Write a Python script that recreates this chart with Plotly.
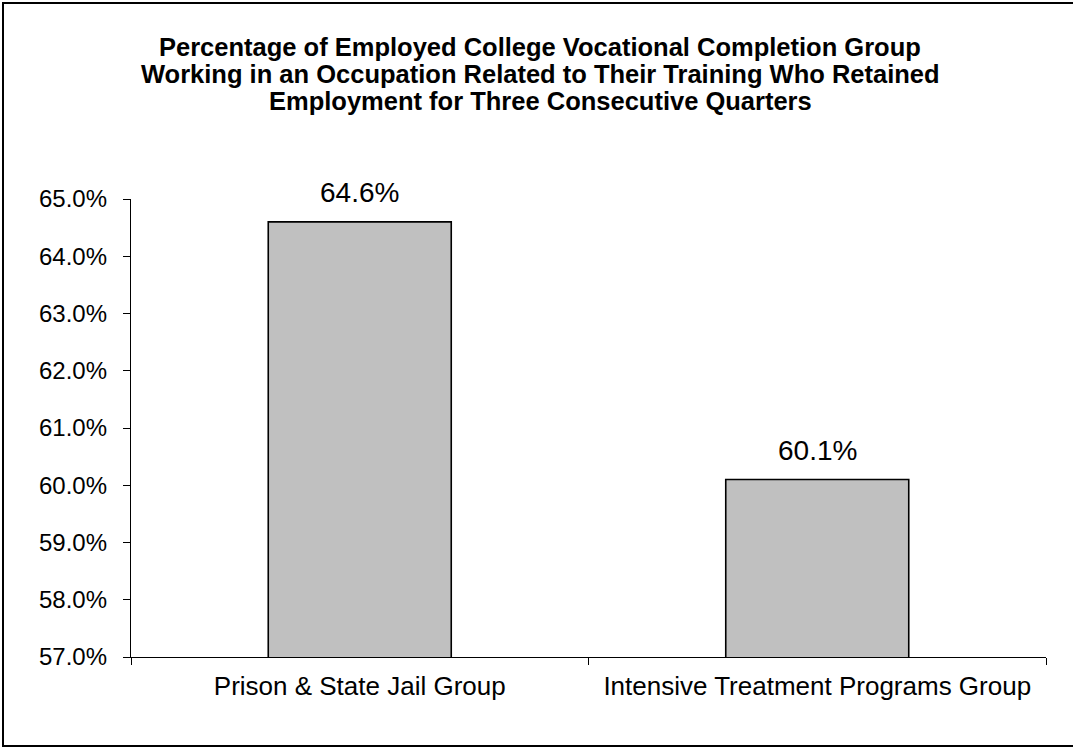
import plotly.graph_objects as go

categories = ["Prison & State Jail Group", "Intensive Treatment Programs Group"]
values = [64.6, 60.1]
y_ticks = [57, 58, 59, 60, 61, 62, 63, 64, 65]
title_lines = [
    "Percentage of Employed College Vocational Completion Group",
    "Working in an Occupation Related to Their Training Who Retained",
    "Employment for Three Consecutive Quarters",
]

FONT = "Liberation Sans, Arial, sans-serif"
L, R, T, B = 131, 27, 199, 91
W, H = 1073, 748
PW, PH = W - L - R, H - T - B

def px_x(px):
    return (px - L) / PW

def px_y(py):
    return (H - B - py) / PH

fig = go.Figure()
fig.add_trace(go.Bar(
    x=categories, y=values,
    marker=dict(color="#C0C0C0", line=dict(color="black", width=1.6)),
    hoverinfo="skip",
))

for c, v in zip(categories, values):
    fig.add_annotation(x=c, y=v, text=f"{v:.1f}%", showarrow=False,
                       yanchor="bottom", yshift=12,
                       font=dict(family=FONT, size=28, color="black"))

for i, line in enumerate(title_lines):
    fig.add_annotation(xref="paper", yref="paper", x=px_x(540), y=px_y(47 + 27 * i),
                       yanchor="middle", xanchor="center", showarrow=False,
                       text=f"<b>{line}</b>",
                       font=dict(family=FONT, size=25.5, color="black"))

# outer frame: open path (left, top, bottom edges), right side runs off the picture
xl, xr, yt, yb = px_x(3), px_x(1110), px_y(3), px_y(746)
fig.add_shape(type="path", xref="paper", yref="paper",
              path=f"M {xr},{yt} L {xl},{yt} L {xl},{yb} L {xr},{yb}",
              line=dict(color="black", width=2), fillcolor="rgba(0,0,0,0)")

fig.update_layout(
    width=W, height=H,
    margin=dict(l=L, r=R, t=T, b=B),
    paper_bgcolor="white", plot_bgcolor="white",
    bargap=0.6, showlegend=False,
    font=dict(family=FONT, color="black"),
)
fig.update_yaxes(range=[57, 65], tickvals=y_ticks,
                 ticktext=[f"{t:.1f}%" for t in y_ticks],
                 showgrid=False, zeroline=False, showline=True,
                 linecolor="black", linewidth=1.3, ticks="outside",
                 ticklen=7, tickcolor="black", tickwidth=1.3,
                 tickfont=dict(size=24), ticklabelstandoff=11)
fig.update_xaxes(showgrid=False, showline=True, linecolor="black",
                 linewidth=1.3, ticks="outside", tickson="boundaries",
                 ticklen=7, tickcolor="black", tickwidth=1.3,
                 tickfont=dict(size=26), ticklabelstandoff=6)

fig.write_html("out.html", config={"displayModeBar": False},
               post_script="document.body.style.margin='0';document.body.style.overflow='hidden';")
